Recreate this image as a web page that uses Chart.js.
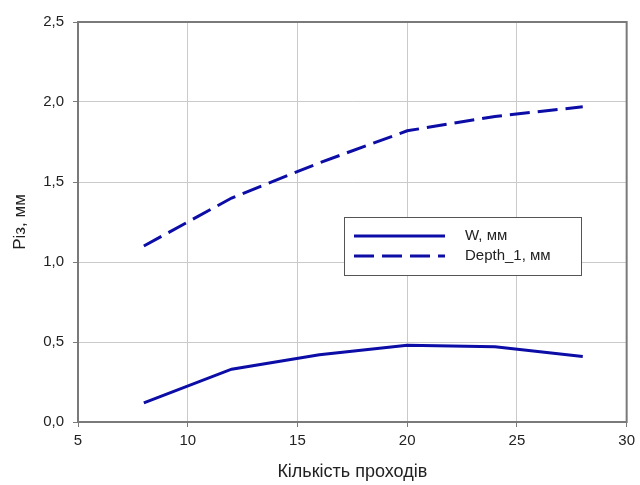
<!DOCTYPE html>
<html>
<head>
<meta charset="utf-8">
<script src="https://cdn.jsdelivr.net/npm/chart.js@4"></script>
<style>
  html, body { margin: 0; padding: 0; background: #fff; }
  #wrap { width: 640px; height: 485px; }
</style>
</head>
<body>
<div id="wrap"><canvas id="chart" width="640" height="485"></canvas></div>
<script>
// Data
const passes = [8, 12, 16, 20, 24, 28];
const widthW = [0.12, 0.33, 0.42, 0.48, 0.47, 0.41];
const depth1 = [1.10, 1.40, 1.62, 1.82, 1.91, 1.97];
const xTicks = [5, 10, 15, 20, 25, 30];
const yTicks = [0, 0.5, 1.0, 1.5, 2.0, 2.5];
const seriesLabels = ["W, мм", "Depth_1, мм"];

const lineColor = "#0c0ca6";
const fontFamily = "'Liberation Sans', Arial, sans-serif";

function toPoints(xs, ys) {
  return xs.map(function (x, i) {
    return { x: x, y: ys[i] };
  });
}

// Frame round the plot area and the legend box inside it
const framePlugin = {
  id: "frame",
  afterDraw: function (chart) {
    const ctx = chart.ctx;
    const a = chart.chartArea;
    ctx.save();
    ctx.strokeStyle = "#7a7a7a";
    ctx.lineWidth = 2;
    ctx.strokeRect(a.left, a.top, a.right - a.left, a.bottom - a.top);

    // legend
    const bx = 344, by = 217, bw = 237, bh = 58;
    ctx.fillStyle = "#fff";
    ctx.fillRect(bx, by, bw, bh);
    ctx.lineWidth = 1;
    ctx.strokeStyle = "#555";
    ctx.strokeRect(bx + 0.5, by + 0.5, bw, bh);

    chart.data.datasets.forEach(function (ds, i) {
      const y = by + 19 + i * 20;
      ctx.strokeStyle = ds.borderColor;
      ctx.lineWidth = 3;
      ctx.setLineDash(ds.borderDash || []);
      ctx.beginPath();
      ctx.moveTo(bx + 10, y);
      ctx.lineTo(bx + 101, y);
      ctx.stroke();
      ctx.setLineDash([]);
      ctx.fillStyle = "#222";
      ctx.font = "15px " + fontFamily;
      ctx.textBaseline = "middle";
      ctx.fillText(ds.label, bx + 121, y);
    });
    ctx.restore();
  },
};

new Chart(document.getElementById("chart"), {
  type: "line",
  data: {
    datasets: [
      {
        label: seriesLabels[0],
        data: toPoints(passes, widthW),
        borderColor: lineColor,
        borderWidth: 3,
        pointRadius: 0,
        tension: 0,
        fill: false,
      },
      {
        label: seriesLabels[1],
        data: toPoints(passes, depth1),
        borderColor: lineColor,
        borderWidth: 3,
        borderDash: [20, 8],
        pointRadius: 0,
        tension: 0,
        fill: false,
      },
    ],
  },
  options: {
    responsive: false,
    animation: false,
    layout: { padding: { top: 22, right: 8, left: 0, bottom: 0 } },
    plugins: {
      legend: { display: false },
      tooltip: { enabled: false },
    },
    scales: {
      x: {
        type: "linear",
        min: 5,
        max: 30,
        afterBuildTicks: function (scale) {
          scale.ticks = xTicks.map(function (v) { return { value: v }; });
        },
        afterFit: function (scale) { scale.height = 63; },
        grid: { color: "#cacaca", lineWidth: 1, tickColor: "#7a7a7a", tickLength: 5 },
        border: { color: "#7a7a7a", width: 2 },
        ticks: {
          padding: 5,
          color: "#222",
          font: { family: fontFamily, size: 15 },
          maxRotation: 0,
        },
        title: {
          display: true,
          text: "Кількість проходів",
          color: "#222",
          font: { family: fontFamily, size: 18 },
          padding: { top: 4, bottom: 2 },
        },
      },
      y: {
        type: "linear",
        min: 0,
        max: 2.5,
        afterBuildTicks: function (scale) {
          scale.ticks = yTicks.map(function (v) { return { value: v }; });
        },
        afterFit: function (scale) { scale.width = 78; },
        grid: { color: "#cacaca", lineWidth: 1, tickColor: "#7a7a7a", tickLength: 5 },
        border: { color: "#7a7a7a", width: 2 },
        ticks: {
          padding: 9,
          color: "#222",
          font: { family: fontFamily, size: 15 },
          callback: function (v) { return v.toFixed(1).replace(".", ","); },
        },
        title: {
          display: true,
          text: "Різ, мм",
          color: "#222",
          font: { family: fontFamily, size: 17 },
          padding: { top: 10, bottom: 4 },
        },
      },
    },
  },
  plugins: [framePlugin],
});
</script>
</body>
</html>
